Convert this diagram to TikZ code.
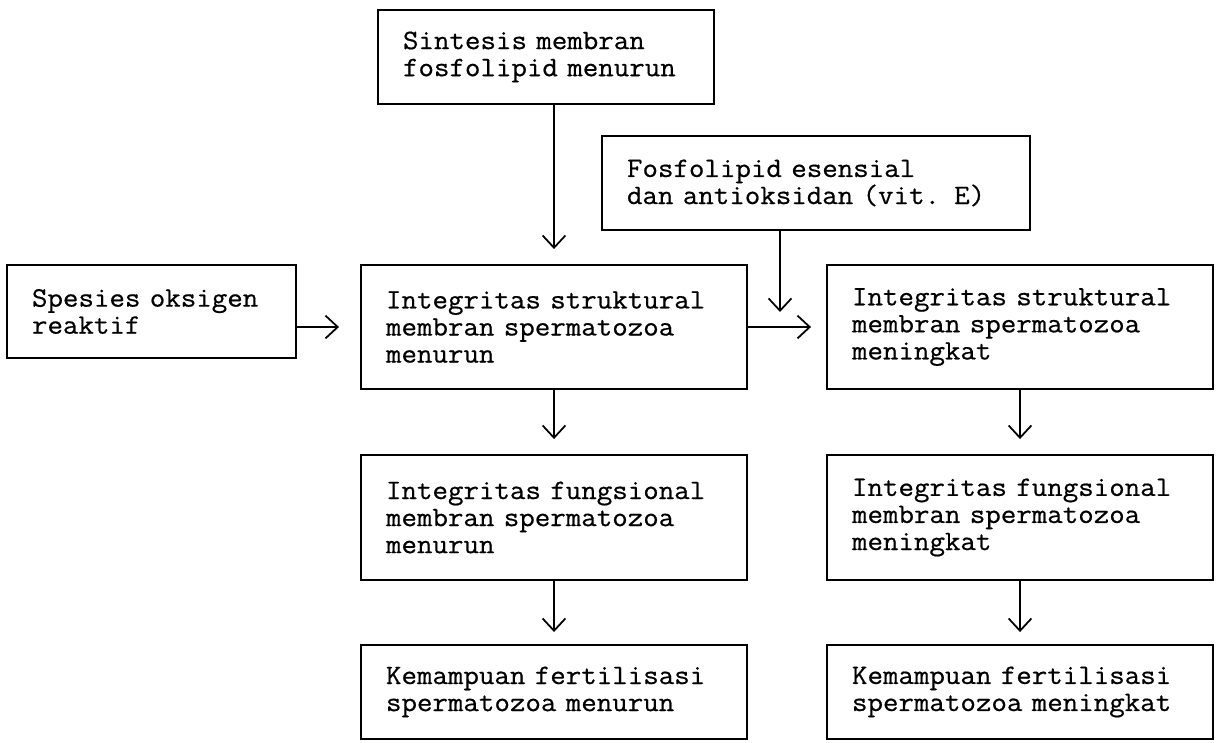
\documentclass[tikz,border=0pt]{standalone}
\usepackage{fontspec}
\newfontfamily\boxfont[FakeStretch=1.07, FakeBold=0.6]{Latin Modern Mono}
\usetikzlibrary{arrows.meta,positioning,calc}

\begin{document}
\begin{tikzpicture}[
    box/.style={draw, line width=1.1pt, inner xsep=0.5cm, align=left, font=\boxfont\fontsize{16}{15.4}\selectfont},
    wide/.style={text width=6.72cm, minimum height=2.48cm},
    arr/.style={-{Straight Barb[length=7pt, width=13pt, line width=1pt]}, line width=1pt, shorten >=0.3cm}
]
\useasboundingbox (0,0) rectangle (24.4,-14.84);
\node[box, text width=5.72cm, minimum height=1.88cm] (sint) at (10.92,-1.14) {Sintesis membran\\fosfolipid menurun};
\node[box, text width=7.56cm, minimum height=1.88cm] (fosf) at (16.32,-3.66) {Fosfolipid esensial\\dan antioksidan (vit. E)};
\node[box, text width=4.78cm, minimum height=1.86cm] (ros) at (3.03,-6.23) {Spesies oksigen\\reaktif};
\node[box, wide] (strD) at (11.08,-6.54) {Integritas struktural\\membran spermatozoa\\menurun};
\node[box, wide] (strU) at (20.40,-6.54) {Integritas struktural\\membran spermatozoa\\meningkat};
\node[box, wide, minimum height=2.5cm] (fungD) at (11.08,-10.35) {Integritas fungsional\\membran spermatozoa\\menurun};
\node[box, wide, minimum height=2.5cm] (fungU) at (20.40,-10.35) {Integritas fungsional\\membran spermatozoa\\meningkat};
\node[box, wide, minimum height=1.88cm] (fertD) at (11.08,-13.84) {Kemampuan fertilisasi\\spermatozoa menurun};
\node[box, wide, minimum height=1.88cm] (fertU) at (20.40,-13.84) {Kemampuan fertilisasi\\spermatozoa meningkat};
\coordinate (vitE) at (15.6,-6.24);

\draw[arr] (sint.south -| strD.north) -- (strD.north);
\draw[arr, shorten >=0pt] (fosf.south -| vitE) -- (vitE);
\draw[arr, shorten >=0.42cm] (ros.east |- strD) -- (strD.west);
\draw[arr] (strD.east) -- (strU.west);
\draw[arr] (strD) -- (fungD);
\draw[arr, shorten >=0.24cm] (fungD) -- (fertD);
\draw[arr] (strU) -- (fungU);
\draw[arr, shorten >=0.24cm] (fungU) -- (fertU);
\end{tikzpicture}
\end{document}
